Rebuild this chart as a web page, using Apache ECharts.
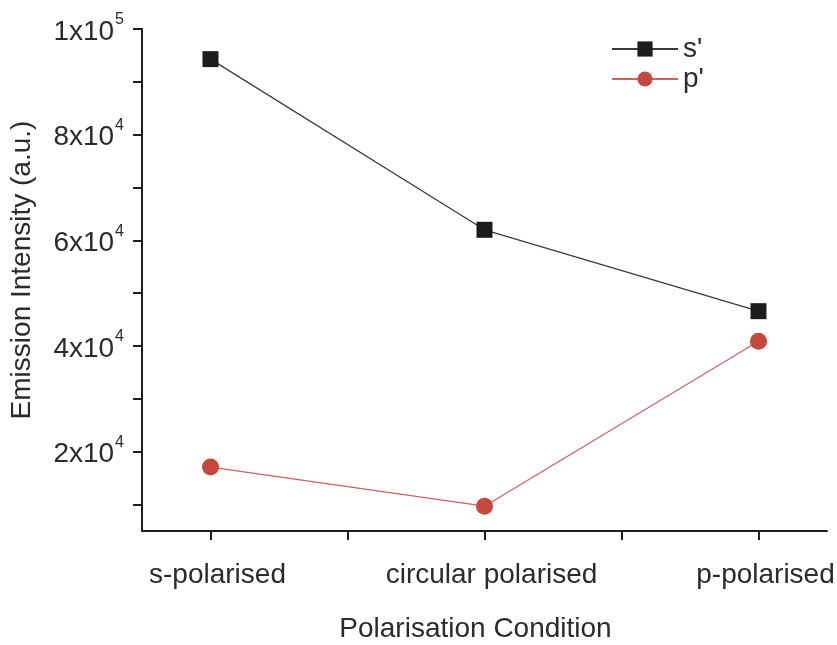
<!DOCTYPE html>
<html>
<head>
<meta charset="utf-8">
<script src="https://cdn.jsdelivr.net/npm/echarts@6/dist/echarts.min.js"></script>
<style>
  html, body { margin: 0; padding: 0; background: #ffffff; }
  #chart { width: 837px; height: 645px; }
</style>
</head>
<body>
<div id="chart"></div>
<script>
// Polarisation conditions along the x axis
const categories = ['s-polarised', 'circular polarised', 'p-polarised'];
// Emission intensity (a.u.) for each detected polarisation
const sPrime = [94300, 62000, 46600];
const pPrime = [17100, 9700, 40900];
// Y axis ticks and labelled values
const yTicks = [10000, 20000, 30000, 40000, 50000, 60000, 70000, 80000, 90000, 100000];
const yLabels = [20000, 40000, 60000, 80000, 100000];
const xTicks = [0, 0.5, 1, 1.5, 2];
const xLabels = [0, 1, 2];

const FONT = '"Liberation Sans", Arial, Helvetica, sans-serif';
const TEXT = '#2b2b2b';
const AXIS = '#1e1e1e';

function toPoints(values) {
  return values.map((v, i) => [i, v]);
}

function sciLabel(v) {
  const e = Math.floor(Math.log10(v) + 1e-9);
  const m = Math.round(v / Math.pow(10, e));
  return '{b|' + m + 'x10}{sup|' + e + '}';
}

const chart = echarts.init(document.getElementById('chart'), null, { renderer: 'canvas' });

chart.setOption({
  backgroundColor: '#ffffff',
  animation: false,
  textStyle: { fontFamily: FONT, color: TEXT },
  grid: { left: 142, right: 10, top: 29, bottom: 114, containLabel: false, outerBoundsMode: 'none' },
  legend: {
    orient: 'vertical',
    left: 606,
    top: 29,
    itemWidth: 66,
    itemHeight: 19,
    itemGap: 0,
    textStyle: { fontFamily: FONT, fontSize: 28, color: TEXT, lineHeight: 30 },
    data: ["s'", "p'"]
  },
  xAxis: {
    type: 'value',
    min: -0.25,
    max: 2.25,
    name: 'Polarisation Condition',
    nameLocation: 'middle',
    nameGap: 84,
    nameTextStyle: { fontFamily: FONT, fontSize: 28, color: TEXT, padding: [0, 18, 0, 0] },
    axisLine: { show: true, onZero: false, lineStyle: { color: AXIS, width: 2 } },
    axisTick: { show: true, inside: false, length: 9, customValues: xTicks, lineStyle: { color: AXIS, width: 2 } },
    axisLabel: {
      customValues: xLabels,
      margin: 30,
      fontFamily: FONT,
      fontSize: 28,
      color: TEXT,
      padding: [0, 0, 0, 14],
      formatter: v => categories[Math.round(v)]
    },
    splitLine: { show: false }
  },
  yAxis: {
    type: 'value',
    min: 5000,
    max: 100000,
    name: 'Emission Intensity (a.u.)',
    nameLocation: 'middle',
    nameGap: 106,
    nameRotate: 90,
    nameTextStyle: { fontFamily: FONT, fontSize: 28, color: TEXT, padding: [0, 0, 0, 20] },
    axisLine: { show: true, onZero: false, lineStyle: { color: AXIS, width: 2 } },
    axisTick: { show: true, inside: false, length: 9, customValues: yTicks, lineStyle: { color: AXIS, width: 2 } },
    axisLabel: {
      customValues: yLabels,
      margin: 18,
      formatter: sciLabel,
      rich: {
        b: { fontFamily: FONT, fontSize: 28, color: TEXT, lineHeight: 34, verticalAlign: 'bottom' },
        sup: { fontFamily: FONT, fontSize: 16, color: TEXT, lineHeight: 34, verticalAlign: 'top', padding: [0, 0, 0, 1] }
      }
    },
    splitLine: { show: false }
  },
  series: [
    {
      name: "s'",
      type: 'line',
      data: toPoints(sPrime),
      symbol: 'rect',
      symbolSize: 16,
      itemStyle: { color: '#1c1c1c' },
      lineStyle: { color: '#3a3a3a', width: 1.2 }
    },
    {
      name: "p'",
      type: 'line',
      data: toPoints(pPrime),
      symbol: 'circle',
      symbolSize: 17,
      itemStyle: { color: '#c6473b' },
      lineStyle: { color: '#c96461', width: 1.2 }
    }
  ]
});
</script>
</body>
</html>
